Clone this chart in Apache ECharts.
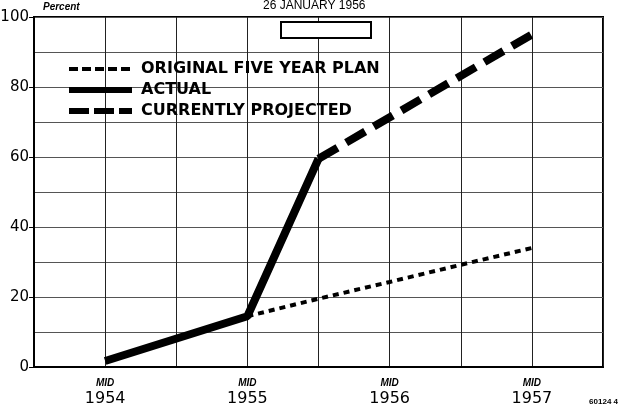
<!DOCTYPE html>
<html><head><meta charset="utf-8">
<script src="https://cdn.jsdelivr.net/npm/echarts@6/dist/echarts.min.js"></script>
<style>html,body{margin:0;padding:0;background:#fff}#c{width:618px;height:406px}</style>
</head><body><div id="c"></div>
<script>
var yTicks = [0, 20, 40, 60, 80, 100];
var xLabels = ['1954', '1955', '1956', '1957'];
var originalPlan = [[1955.5, 14.5], [1956.0, 19.5], [1956.5, 24.3], [1957.0, 29.2], [1957.5, 34]];
var actual = [[1954.5, 1.7], [1955.5, 14.5], [1956.0, 59.5]];
var projected = [[1956.0, 59.5], [1957.5, 95]];
var seriesNames = ['ORIGINAL FIVE YEAR PLAN', 'ACTUAL', 'CURRENTLY PROJECTED'];

var chart = echarts.init(document.getElementById('c'), null, {renderer: 'canvas'});
var F = '"Liberation Sans", Arial, sans-serif';
var LF = '"DejaVu Sans", sans-serif';
var noSym = {color: 'transparent', borderWidth: 0, opacity: 0};
chart.setOption({
  animation: false,
  backgroundColor: '#fff',
  grid: {left: 34, top: 17, right: 15, bottom: 39, outerBoundsMode: 'none', containLabel: false,
    show: true, borderColor: '#000', borderWidth: 2, backgroundColor: 'transparent'},
  xAxis: {
    type: 'value', min: 1954, max: 1958, interval: 0.5,
    axisLine: {show: true, lineStyle: {color: '#000', width: 2}},
    axisTick: {show: false},
    splitLine: {show: true, lineStyle: {color: '#222', width: 1}},
    axisLabel: {
      margin: 9,
      formatter: function (v) {
        var y = Math.floor(v);
        if (Math.abs(v - y - 0.5) < 1e-6 && xLabels.indexOf(String(y)) >= 0) return '{m|MID}\n{y|' + y + '}';
        return '';
      },
      rich: {
        m: {fontFamily: F, fontStyle: 'italic', fontWeight: 'bold', fontSize: 10, color: '#000', lineHeight: 14, align: 'center'},
        y: {fontFamily: LF, fontSize: 16, color: '#000', lineHeight: 18, align: 'center'}
      }
    }
  },
  yAxis: {
    type: 'value', min: 0, max: 100, interval: 20,
    axisLine: {show: true, lineStyle: {color: '#000', width: 2}},
    axisTick: {show: true, length: 5, lineStyle: {color: '#000', width: 1}},
    splitLine: {show: true, lineStyle: {color: '#555', width: 1}},
    minorTick: {show: false, splitNumber: 2},
    minorSplitLine: {show: true, lineStyle: {color: '#555', width: 1}},
    axisLabel: {
      margin: 5, color: '#000', fontSize: 15, fontFamily: LF,
      formatter: function (v) { return yTicks.indexOf(v) >= 0 ? String(v) : ''; }
    }
  },
  legend: {
    show: true, orient: 'vertical', left: 61, top: 56, itemWidth: 63, itemHeight: 12, itemGap: 5,
    itemStyle: noSym,
    data: [
      {name: seriesNames[0], itemStyle: noSym, lineStyle: {width: 4, type: [9, 4], color: '#000'}},
      {name: seriesNames[1], itemStyle: noSym, lineStyle: {width: 6, type: 'solid', color: '#000'}},
      {name: seriesNames[2], itemStyle: noSym, lineStyle: {width: 6, type: [20, 5], color: '#000'}}
    ],
    textStyle: {fontFamily: LF, fontWeight: 'bold', fontSize: 16, lineHeight: 15, color: '#000', padding: [0, 0, 0, 4]}
  },
  graphic: [
    {type: 'text', left: 263, top: 0, style: {text: '26 JANUARY 1956', fontFamily: F, fontSize: 12, fill: '#000'}},
    {type: 'text', left: 43, top: 2, style: {text: 'Percent', fontFamily: F, fontSize: 10, fontStyle: 'italic', fontWeight: 'bold', fill: '#000'}},
    {type: 'rect', shape: {x: 281, y: 22, width: 90, height: 16}, style: {fill: '#fff', stroke: '#000', lineWidth: 2}, z: 10},
    {type: 'text', right: 0, bottom: 0, style: {text: '60124 4', fontFamily: F, fontSize: 8, fontWeight: 'bold', fill: '#000'}}
  ],
  series: [
    {name: seriesNames[0], type: 'line', data: originalPlan, symbol: 'none', z: 3,
      lineStyle: {color: '#000', width: 4, type: [6, 5], cap: 'butt'}, itemStyle: {color: '#000'}},
    {name: seriesNames[1], type: 'line', data: actual, symbol: 'none', z: 4,
      lineStyle: {color: '#000', width: 8, type: 'solid'}, itemStyle: {color: '#000'}},
    {name: seriesNames[2], type: 'line', data: projected, symbol: 'none', z: 4,
      lineStyle: {color: '#000', width: 8, type: [22, 10], cap: 'butt'}, itemStyle: {color: '#000'}}
  ]
});
</script></body></html>
